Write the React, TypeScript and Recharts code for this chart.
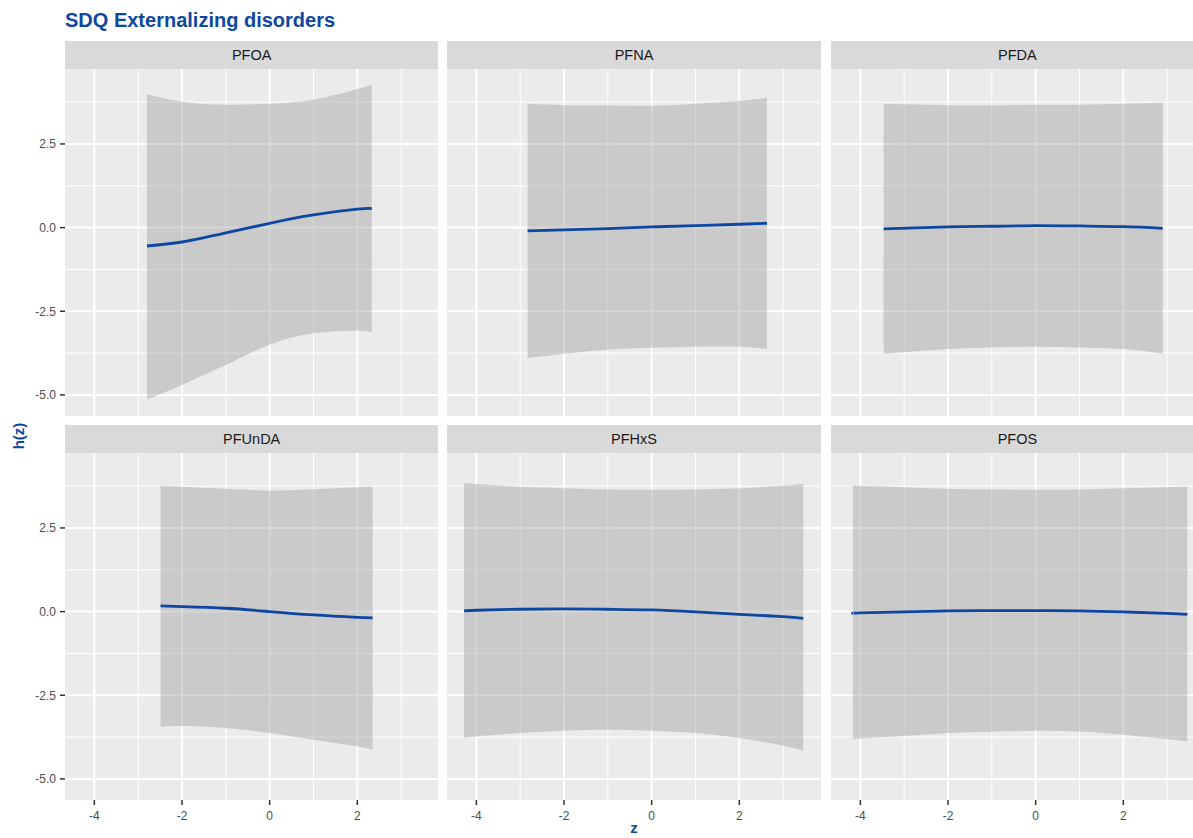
import { ComposedChart, Area, Line, XAxis, YAxis, CartesianGrid } from 'recharts';

// z grid and estimates read off each facet
const pfoaZ = [-2.8, -2, -1, 0, 1, 2, 2.33];
const pfoaH = [-0.55, -0.43, -0.16, 0.13, 0.38, 0.55, 0.57];
const pfoaLo = [-5.14, -4.7, -4.1, -3.5, -3.16, -3.08, -3.13];
const pfoaHi = [3.99, 3.76, 3.67, 3.7, 3.82, 4.14, 4.26];

const pfnaZ = [-2.83, -2, -1, 0, 1, 2, 2.63];
const pfnaH = [-0.1, -0.07, -0.03, 0.02, 0.06, 0.1, 0.13];
const pfnaLo = [-3.9, -3.77, -3.65, -3.59, -3.56, -3.56, -3.62];
const pfnaHi = [3.7, 3.66, 3.65, 3.64, 3.7, 3.79, 3.88];

const pfdaZ = [-3.47, -2, -1, 0, 1, 2, 2.9];
const pfdaH = [-0.04, 0.02, 0.04, 0.06, 0.05, 0.03, -0.02];
const pfdaLo = [-3.77, -3.63, -3.58, -3.56, -3.58, -3.63, -3.77];
const pfdaHi = [3.7, 3.66, 3.65, 3.67, 3.67, 3.7, 3.73];

const pfundaZ = [-2.49, -2, -1, 0, 1, 2, 2.35];
const pfundaH = [0.17, 0.15, 0.1, 0.0, -0.1, -0.17, -0.19];
const pfundaLo = [-3.44, -3.42, -3.48, -3.63, -3.83, -4.03, -4.13];
const pfundaHi = [3.76, 3.73, 3.67, 3.62, 3.66, 3.72, 3.73];

const pfhxsZ = [-4.28, -4, -3, -2, -1, 0, 1, 2, 3, 3.46];
const pfhxsH = [0.02, 0.04, 0.07, 0.08, 0.07, 0.05, -0.01, -0.08, -0.15, -0.2];
const pfhxsLo = [-3.78, -3.73, -3.63, -3.56, -3.53, -3.56, -3.63, -3.78, -4.01, -4.15];
const pfhxsHi = [3.84, 3.81, 3.73, 3.69, 3.65, 3.64, 3.65, 3.69, 3.76, 3.81];

const pfosZ = [-4.17, -4, -3, -2, -1, 0, 1, 2, 3, 3.46];
const pfosH = [-0.05, -0.04, -0.01, 0.02, 0.03, 0.03, 0.02, -0.01, -0.05, -0.08];
const pfosLo = [-3.83, -3.79, -3.72, -3.63, -3.59, -3.56, -3.58, -3.68, -3.81, -3.88];
const pfosHi = [3.79, 3.76, 3.72, 3.67, 3.65, 3.64, 3.65, 3.69, 3.72, 3.73];

const panelNames = ['PFOA', 'PFNA', 'PFDA', 'PFUnDA', 'PFHxS', 'PFOS'];

const xTicks = [-4, -2, 0, 2];
const xMinor = [-3, -1, 1, 3];
const yTicks = [-5, -2.5, 0, 2.5];
const yMinor = [-3.75, -1.25, 1.25, 3.75];
const xDomain = [-4.67, 3.85];
const yDomain = [-5.63, 4.74];

const BLUE = '#0D47A1';
const FONT = '"Liberation Sans", Arial, Helvetica, sans-serif';

const PLOT_W = 373.4;
const PLOT_H = 347;
const STRIP_H = 28;
const Y_W = 65;
const X_H = 32;
const colLeft = [65, 447.3, 830.7];
const rowTop = [69, 453.3];

function build(z: number[], h: number[], lo: number[], hi: number[]) {
  return z.map((v, i) => ({ z: v, h: h[i], band: [lo[i], hi[i]] }));
}

const panelData = [
  build(pfoaZ, pfoaH, pfoaLo, pfoaHi),
  build(pfnaZ, pfnaH, pfnaLo, pfnaHi),
  build(pfdaZ, pfdaH, pfdaLo, pfdaHi),
  build(pfundaZ, pfundaH, pfundaLo, pfundaHi),
  build(pfhxsZ, pfhxsH, pfhxsLo, pfhxsHi),
  build(pfosZ, pfosH, pfosLo, pfosHi),
];

const tickStyle = { fontSize: 12, fill: '#4D4D4D', fontFamily: FONT };

function Facet({ index }: { index: number }) {
  const col = index % 3;
  const row = Math.floor(index / 3);
  const showY = col === 0;
  const showX = row === 1;
  const left = colLeft[col] - (showY ? Y_W : 0);
  const width = PLOT_W + (showY ? Y_W : 0);
  const height = PLOT_H + (showX ? X_H : 0);

  return (
    <>
      {/* strip */}
      <div
        style={{
          position: 'absolute',
          left: colLeft[col],
          top: rowTop[row] - STRIP_H,
          width: PLOT_W,
          height: STRIP_H,
          background: '#D9D9D9',
          color: '#1A1A1A',
          fontFamily: FONT,
          fontSize: 14.5,
          lineHeight: `${STRIP_H}px`,
          textAlign: 'center',
        }}
      >
        {panelNames[index]}
      </div>
      {/* panel background */}
      <div
        style={{
          position: 'absolute',
          left: colLeft[col],
          top: rowTop[row],
          width: PLOT_W,
          height: PLOT_H,
          background: '#EBEBEB',
        }}
      />
      <div style={{ position: 'absolute', left, top: rowTop[row], width, height }}>
        <ComposedChart
          width={width}
          height={height}
          data={panelData[index]}
          margin={{ top: 0, right: 0, bottom: 0, left: 0 }}
        >
          <CartesianGrid
            stroke="#FFFFFF"
            strokeWidth={1}
            verticalValues={xMinor}
            horizontalValues={yMinor}
          />
          <CartesianGrid
            stroke="#FFFFFF"
            strokeWidth={2}
            verticalValues={xTicks}
            horizontalValues={yTicks}
          />
          <XAxis
            dataKey="z"
            type="number"
            domain={xDomain}
            allowDataOverflow
            ticks={xTicks}
            hide={!showX}
            height={X_H}
            axisLine={false}
            tickLine={{ stroke: '#333333', strokeWidth: 1.5 }}
            tickSize={5}
            tickMargin={6}
            tick={tickStyle}
            tickFormatter={(v: number) => String(v)}
          />
          <YAxis
            type="number"
            domain={yDomain}
            allowDataOverflow
            ticks={yTicks}
            hide={!showY}
            width={Y_W}
            axisLine={false}
            tickLine={{ stroke: '#333333', strokeWidth: 1.5 }}
            tickSize={5}
            tickMargin={4}
            tick={tickStyle}
            tickFormatter={(v: number) => v.toFixed(1)}
          />
          <Area
            dataKey="band"
            type="natural"
            fill="#999999"
            fillOpacity={0.4}
            stroke="none"
            isAnimationActive={false}
          />
          <Line
            dataKey="h"
            type="natural"
            stroke={BLUE}
            strokeWidth={2.8}
            dot={false}
            activeDot={false}
            isAnimationActive={false}
          />
        </ComposedChart>
      </div>
    </>
  );
}

export default function App() {
  return (
    <div
      style={{
        position: 'absolute',
        left: 0,
        top: 0,
        width: 1193,
        height: 838,
        overflow: 'hidden',
        background: '#FFFFFF',
        fontFamily: FONT,
      }}
    >
      <div
        style={{
          position: 'absolute',
          left: 65,
          top: 6,
          fontSize: 20,
          fontWeight: 700,
          color: BLUE,
          lineHeight: '28px',
          whiteSpace: 'nowrap',
        }}
      >
        SDQ Externalizing disorders
      </div>
      {panelNames.map((_, i) => (
        <Facet key={i} index={i} />
      ))}
      <svg
        width={1193}
        height={838}
        style={{ position: 'absolute', left: 0, top: 0, pointerEvents: 'none' }}
      >
        <text
          x={0}
          y={0}
          transform="translate(24 436) rotate(-90)"
          textAnchor="middle"
          fontFamily={FONT}
          fontSize={15}
          fontWeight={700}
          fill={BLUE}
        >
          h(z)
        </text>
        <text
          x={634}
          y={833}
          textAnchor="middle"
          fontFamily={FONT}
          fontSize={15}
          fontWeight={700}
          fill={BLUE}
        >
          z
        </text>
      </svg>
    </div>
  );
}
